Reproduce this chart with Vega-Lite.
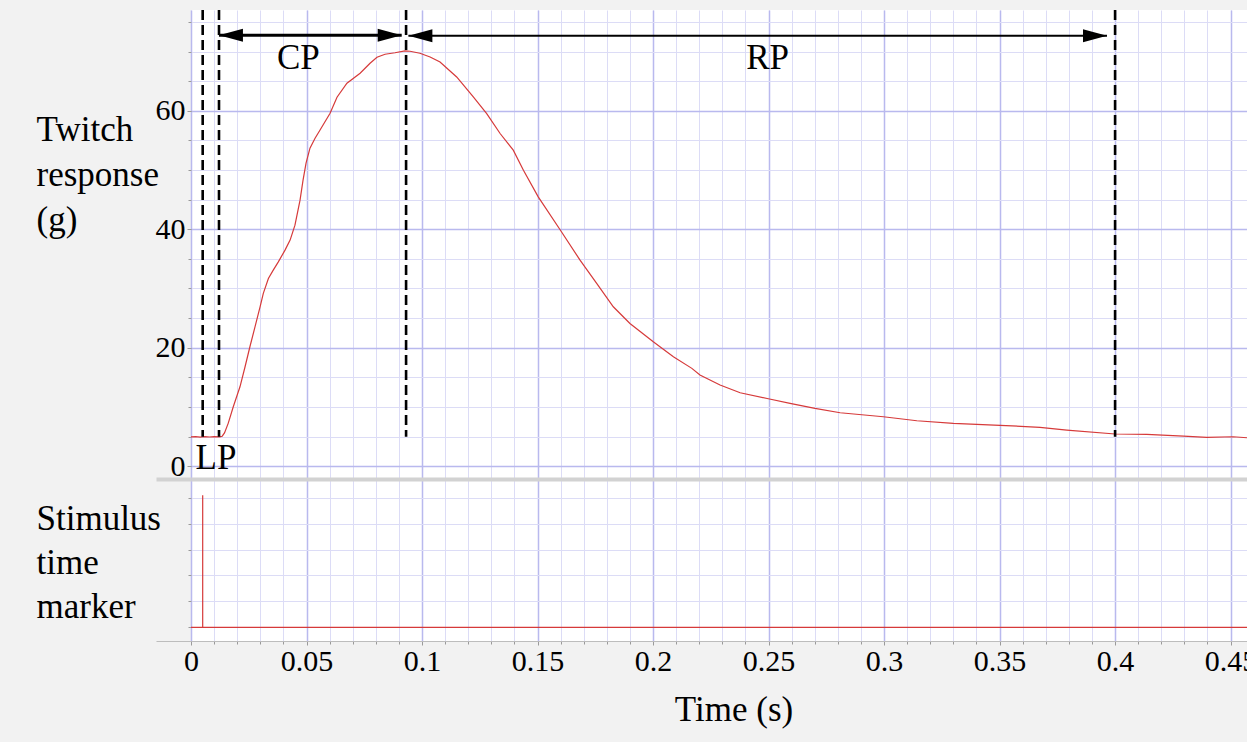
{
  "$schema": "https://vega.github.io/schema/vega-lite/v6.json",
  "width": 1056,
  "height": 631,
  "autosize": {"type": "none"},
  "padding": {"left": 191, "top": 10, "right": 0, "bottom": 101},
  "background": "#f2f2f2",
  "config": {
    "view": {"stroke": null, "fill": "#ffffff"},
    "axis": {
      "labelFont": "Liberation Serif",
      "titleFont": "Liberation Serif",
      "labelColor": "#000000",
      "titleColor": "#000000",
      "titleFontWeight": "normal",
      "tickColor": "#9a9a9a",
      "gridOpacity": 1
    }
  },
  "datasets": {
    "twitch": [
      {"t": 0, "v": 4.93}, {"t": 0.002, "v": 4.98}, {"t": 0.004, "v": 4.9}, {"t": 0.006, "v": 4.97},
      {"t": 0.008, "v": 4.92}, {"t": 0.01, "v": 4.97}, {"t": 0.0125, "v": 4.93}, {"t": 0.0135, "v": 5.05},
      {"t": 0.0145, "v": 5.6}, {"t": 0.0161, "v": 7.22}, {"t": 0.0183, "v": 10.03}, {"t": 0.0212, "v": 13.4},
      {"t": 0.0234, "v": 16.78}, {"t": 0.0255, "v": 20.16}, {"t": 0.0277, "v": 23.53}, {"t": 0.0299, "v": 26.91},
      {"t": 0.0313, "v": 29.17}, {"t": 0.0335, "v": 31.7}, {"t": 0.0356, "v": 33.1}, {"t": 0.0378, "v": 34.5},
      {"t": 0.0407, "v": 36.48}, {"t": 0.0429, "v": 38.17}, {"t": 0.045, "v": 40.7}, {"t": 0.0472, "v": 44.92},
      {"t": 0.0485, "v": 48.3}, {"t": 0.0498, "v": 51.16}, {"t": 0.0515, "v": 53.7}, {"t": 0.0537, "v": 55.38},
      {"t": 0.0558, "v": 56.73}, {"t": 0.0602, "v": 59.61}, {"t": 0.0632, "v": 62.31}, {"t": 0.0675, "v": 64.67},
      {"t": 0.0732, "v": 66.36}, {"t": 0.0775, "v": 68.05}, {"t": 0.0805, "v": 69.06}, {"t": 0.084, "v": 69.57},
      {"t": 0.0883, "v": 69.82}, {"t": 0.0926, "v": 70.12}, {"t": 0.0948, "v": 70.07}, {"t": 0.0991, "v": 69.73},
      {"t": 0.1035, "v": 69.11}, {"t": 0.1078, "v": 68.26}, {"t": 0.115, "v": 65.73}, {"t": 0.1222, "v": 62.36},
      {"t": 0.128, "v": 59.55}, {"t": 0.1338, "v": 56.18}, {"t": 0.1395, "v": 53.36}, {"t": 0.1439, "v": 49.98},
      {"t": 0.1503, "v": 45.48}, {"t": 0.1597, "v": 39.97}, {"t": 0.1684, "v": 34.79}, {"t": 0.1756, "v": 30.86},
      {"t": 0.1828, "v": 26.91}, {"t": 0.19, "v": 24.1}, {"t": 0.2001, "v": 21.0}, {"t": 0.2088, "v": 18.47},
      {"t": 0.2168, "v": 16.51}, {"t": 0.2203, "v": 15.38}, {"t": 0.229, "v": 13.69}, {"t": 0.2377, "v": 12.39},
      {"t": 0.2499, "v": 11.38}, {"t": 0.2593, "v": 10.6}, {"t": 0.2701, "v": 9.76}, {"t": 0.281, "v": 9.01},
      {"t": 0.2997, "v": 8.34}, {"t": 0.3142, "v": 7.66}, {"t": 0.33, "v": 7.22}, {"t": 0.3502, "v": 6.89},
      {"t": 0.3675, "v": 6.55}, {"t": 0.3791, "v": 6.09}, {"t": 0.4, "v": 5.42}, {"t": 0.4137, "v": 5.37},
      {"t": 0.4296, "v": 5.08}, {"t": 0.4397, "v": 4.86}, {"t": 0.4511, "v": 4.96}, {"t": 0.4571, "v": 4.79}
    ],
    "markers": [
      {"t": 0.00506, "top": 77.04, "bottom": 4.96},
      {"t": 0.01212, "top": 77.04, "bottom": 4.96},
      {"t": 0.0931, "top": 77.04, "bottom": 4.96},
      {"t": 0.4, "top": 77.04, "bottom": 4.96}
    ],
    "arrows": [
      {"period": "CP", "t1": 0.0121, "t2": 0.0912, "v": 72.77},
      {"period": "RP", "t1": 0.0941, "t2": 0.3965, "v": 72.7}
    ],
    "heads": [
      {"t": 0.0121, "v": 72.77, "dir": "left"},
      {"t": 0.0912, "v": 72.77, "dir": "right"},
      {"t": 0.0941, "v": 72.7, "dir": "left"},
      {"t": 0.3965, "v": 72.7, "dir": "right"}
    ],
    "labels": [
      {"txt": "CP", "t": 0.0465, "v": 69.0},
      {"txt": "RP", "t": 0.2496, "v": 69.0},
      {"txt": "LP", "t": 0.0108, "v": 1.32}
    ],
    "stim": [
      {"t": 0, "v": 0},
      {"t": 0.4571, "v": 0}
    ],
    "spike": [
      {"t": 0.00506, "v0": 0, "v1": 5.1}
    ]
  },
  "layer": [
    {
      "layer": [
        {
          "data": {"name": "twitch"},
          "mark": {"type": "line", "color": "#d63a3a", "strokeWidth": 1.2},
          "encoding": {
            "x": {
              "field": "t", "type": "quantitative",
              "scale": {"domain": [0, 0.4571], "nice": false, "zero": false},
              "axis": {
                "orient": "bottom",
                "values": [0, 0.01, 0.02, 0.03, 0.04, 0.05, 0.06, 0.07, 0.08, 0.09, 0.1, 0.11, 0.12, 0.13, 0.14, 0.15, 0.16, 0.17, 0.18, 0.19, 0.2, 0.21, 0.22, 0.23, 0.24, 0.25, 0.26, 0.27, 0.28, 0.29, 0.3, 0.31, 0.32, 0.33, 0.34, 0.35, 0.36, 0.37, 0.38, 0.39, 0.4, 0.41, 0.42, 0.43, 0.44, 0.45],
                "grid": true, "gridColor": "#dcdcf6", "gridWidth": 1,
                "labels": false, "ticks": true, "tickSize": 3, "domain": false, "title": null
              }
            },
            "y": {
              "field": "v", "type": "quantitative",
              "scale": {"domain": [-29.54, 77.04], "nice": false, "zero": false},
              "axis": {
                "orient": "left",
                "values": [0, 5, 10, 15, 20, 25, 30, 35, 40, 45, 50, 55, 60, 65, 70, 75],
                "grid": true, "gridColor": "#dcdcf6", "gridWidth": 1,
                "labels": false, "ticks": true, "tickSize": 3, "domain": false, "title": null
              }
            }
          }
        },
        {
          "data": {"name": "markers"},
          "mark": {"type": "rule", "color": "#000000", "strokeWidth": 2.6, "strokeDash": [10, 5]},
          "encoding": {
            "x": {
              "field": "t", "type": "quantitative",
              "scale": {"domain": [0, 0.4571], "nice": false, "zero": false},
              "axis": {
                "orient": "bottom",
                "values": [0, 0.05, 0.1, 0.15, 0.2, 0.25, 0.3, 0.35, 0.4, 0.45],
                "format": "~g",
                "grid": true, "gridColor": "#b9b9ee", "gridWidth": 1.5,
                "labels": true, "labelFontSize": 30, "labelBaseline": "alphabetic", "labelPadding": 25,
                "labelFlush": false, "labelOverlap": false, "labelBound": false,
                "ticks": true, "tickSize": 4,
                "domain": true, "domainColor": "#bdbdbd", "domainWidth": 1,
                "title": "Time (s)", "titleFontSize": 35, "titleX": 542.5, "titleY": 79,
                "titleBaseline": "alphabetic", "titleAlign": "center"
              }
            },
            "y": {
              "field": "top", "type": "quantitative",
              "scale": {"domain": [-29.54, 77.04], "nice": false, "zero": false},
              "axis": {
                "orient": "left",
                "values": [0, 20, 40, 60],
                "grid": true, "gridColor": "#b9b9ee", "gridWidth": 1.5,
                "labels": true, "labelFontSize": 30, "labelPadding": 2, "labelBaseline": "middle",
                "ticks": true, "tickSize": 4, "domain": false,
                "title": ["Twitch", "response", "(g)"],
                "titleFontSize": 35, "titleAngle": 0, "titleAlign": "left", "titleBaseline": "top",
                "titleX": -155, "titleY": 102, "titleLineHeight": 45
              }
            },
            "y2": {"field": "bottom"}
          }
        },
        {
          "data": {"name": "arrows"},
          "mark": {"type": "rule", "color": "#000000"},
          "encoding": {
            "x": {"field": "t1", "type": "quantitative", "scale": {"domain": [0, 0.4571], "nice": false, "zero": false}, "axis": null},
            "x2": {"field": "t2"},
            "y": {
              "field": "v", "type": "quantitative",
              "scale": {"domain": [-29.54, 77.04], "nice": false, "zero": false},
              "axis": {
                "orient": "left",
                "values": [-2.2],
                "grid": true, "gridColor": "#d2d2d2", "gridWidth": 4,
                "ticks": true, "tickSize": 35, "tickWidth": 4, "tickColor": "#d2d2d2",
                "labels": false, "domain": false, "title": null
              }
            },
            "strokeWidth": {"condition": {"test": "datum.period === 'CP'", "value": 3}, "value": 2}
          }
        },
        {
          "data": {"name": "heads"},
          "transform": [{"filter": "datum.dir === 'right'"}],
          "mark": {"type": "point", "shape": "M0,0L-2,-0.54L-2,0.54Z", "filled": true, "color": "#000000", "opacity": 1, "size": 576, "strokeWidth": 0},
          "encoding": {
            "x": {"field": "t", "type": "quantitative", "scale": {"domain": [0, 0.4571], "nice": false, "zero": false}, "axis": null},
            "y": {"field": "v", "type": "quantitative", "scale": {"domain": [-29.54, 77.04], "nice": false, "zero": false}, "axis": null}
          }
        },
        {
          "data": {"name": "heads"},
          "transform": [{"filter": "datum.dir === 'left'"}],
          "mark": {"type": "point", "shape": "M0,0L2,-0.54L2,0.54Z", "filled": true, "color": "#000000", "opacity": 1, "size": 576, "strokeWidth": 0},
          "encoding": {
            "x": {"field": "t", "type": "quantitative", "scale": {"domain": [0, 0.4571], "nice": false, "zero": false}, "axis": null},
            "y": {"field": "v", "type": "quantitative", "scale": {"domain": [-29.54, 77.04], "nice": false, "zero": false}, "axis": null}
          }
        },
        {
          "data": {"name": "labels"},
          "mark": {"type": "text", "font": "Liberation Serif", "fontSize": 35, "color": "#000000", "align": "center", "baseline": "middle"},
          "encoding": {
            "x": {"field": "t", "type": "quantitative", "scale": {"domain": [0, 0.4571], "nice": false, "zero": false}, "axis": null},
            "y": {"field": "v", "type": "quantitative", "scale": {"domain": [-29.54, 77.04], "nice": false, "zero": false}, "axis": null},
            "text": {"field": "txt"}
          }
        }
      ],
      "resolve": {"axis": {"x": "independent", "y": "independent"}}
    },
    {
      "layer": [
        {
          "data": {"name": "stim"},
          "mark": {"type": "line", "color": "#d63a3a", "strokeWidth": 1.2},
          "encoding": {
            "x": {"field": "t", "type": "quantitative", "scale": {"domain": [0, 0.4571], "nice": false, "zero": false}, "axis": null},
            "y": {
              "field": "v", "type": "quantitative",
              "scale": {"domain": [-0.529, 23.82], "nice": false, "zero": false},
              "axis": {
                "orient": "left",
                "values": [0, 1, 2, 3, 4, 5],
                "grid": true, "gridColor": "#dcdcf6", "gridWidth": 1,
                "labels": false, "ticks": true, "tickSize": 3, "domain": false,
                "title": ["Stimulus", "time", "marker"],
                "titleFontSize": 35, "titleAngle": 0, "titleAlign": "left", "titleBaseline": "top",
                "titleX": -155, "titleY": 491, "titleLineHeight": 44
              }
            }
          }
        },
        {
          "data": {"name": "spike"},
          "mark": {"type": "rule", "color": "#d63a3a", "strokeWidth": 1.2},
          "encoding": {
            "x": {"field": "t", "type": "quantitative", "scale": {"domain": [0, 0.4571], "nice": false, "zero": false}, "axis": null},
            "y": {
              "field": "v0", "type": "quantitative",
              "scale": {"domain": [-0.529, 23.82], "nice": false, "zero": false},
              "axis": {
                "orient": "left",
                "values": [-0.5285],
                "grid": false, "ticks": true, "tickSize": 35, "tickWidth": 1, "tickColor": "#bdbdbd",
                "labels": false, "domain": false, "title": null
              }
            },
            "y2": {"field": "v1"}
          }
        }
      ],
      "resolve": {"axis": {"x": "independent", "y": "independent"}}
    }
  ],
  "resolve": {"scale": {"y": "independent"}, "axis": {"x": "independent", "y": "independent"}}
}
